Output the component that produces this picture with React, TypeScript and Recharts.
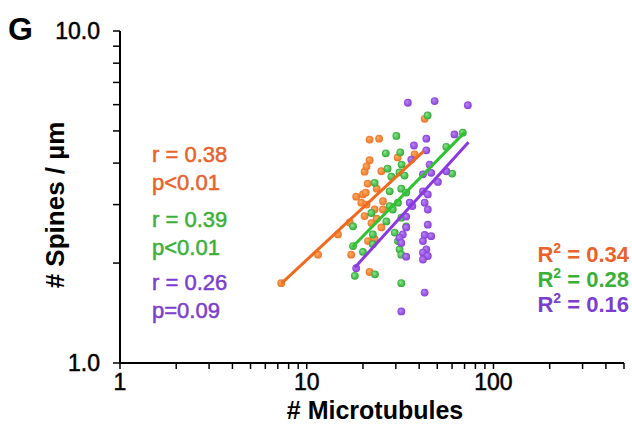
import React from 'react';
import { ScatterChart, Scatter, XAxis, YAxis } from 'recharts';

// # microtubules / # spines per µm
const orangeX = [7.3, 11.5, 14.7, 17.3, 17.0, 18.4, 20.0, 20.7, 19.6, 20.9, 20.4, 21.2, 23.7, 25.1, 21.7, 20.9, 21.7, 24.4, 30.7, 37.8, 42.8, 25.6, 23.1, 25.6, 22.2, 23.7, 25.1, 21.3, 23.1, 21.7, 20.4];
const orangeY = [1.74, 2.12, 2.44, 2.12, 2.65, 3.17, 3.22, 3.26, 3.04, 3.0, 3.77, 3.47, 3.35, 3.78, 4.08, 3.91, 4.71, 4.74, 4.16, 4.25, 5.44, 3.07, 2.9, 2.9, 2.64, 2.72, 2.56, 2.33, 2.36, 1.88, 2.77];

const greenX = [44.4, 30.2, 68.5, 26.5, 31.7, 55.9, 32.2, 27.1, 31.4, 60.1, 23.1, 28.4, 33.4, 27.8, 32.1, 34.1, 22.2, 27.8, 30.8, 28.9, 26.7, 32.1, 17.7, 34.1, 29.6, 22.6, 17.7, 20.0, 30.8, 31.4, 32.1, 18.1, 23.2, 32.1, 22.6];
const greenY = [5.57, 4.83, 4.94, 4.28, 4.31, 4.48, 3.96, 3.85, 3.75, 3.72, 3.49, 3.64, 3.67, 3.29, 3.35, 3.26, 2.83, 2.97, 3.04, 2.9, 2.67, 2.74, 2.58, 2.58, 2.47, 2.28, 2.25, 2.16, 2.33, 2.2, 2.12, 1.83, 1.85, 1.74, 2.44];

const purpleX = [34.8, 48.4, 72.9, 43.7, 61.8, 37.5, 43.7, 36.3, 45.5, 55.9, 41.9, 46.4, 50.4, 41.9, 44.5, 35.6, 36.8, 42.8, 44.5, 34.1, 34.1, 44.5, 32.7, 42.8, 46.4, 31.4, 32.1, 41.9, 43.7, 41.9, 44.5, 34.1, 41.9, 18.4, 42.8, 32.1];
const purpleY = [6.08, 6.15, 5.98, 4.74, 4.88, 4.52, 4.37, 4.1, 3.96, 3.78, 3.7, 3.74, 3.51, 3.29, 3.22, 3.04, 2.97, 3.04, 2.9, 2.76, 2.56, 2.61, 2.44, 2.43, 2.41, 2.38, 2.3, 2.33, 2.2, 2.15, 2.1, 2.09, 2.05, 1.93, 1.63, 1.43];

// regression line end points
const orangeFitX = [7.35, 42.2];
const orangeFitY = [1.74, 4.34];
const greenFitX = [17.6, 70];
const greenFitY = [2.24, 4.95];
const purpleFitX = [18.1, 73.5];
const purpleFitY = [1.94, 4.62];

const xTicks = [1, 2, 3, 4, 5, 6, 7, 8, 9, 10, 20, 30, 40, 50, 60, 70, 80, 90, 100, 200, 300, 400, 500];
const xLabels = [1, 10, 100];
const yTicks = [1, 2, 3, 4, 5, 6, 7, 8, 9, 10];
const yLabels = [1, 10];

const zip = (xs: number[], ys: number[]) => xs.map((x, i) => ({ x, y: ys[i] }));

const ORANGE = '#EE7328';
const PURPLE = '#8A3EDB';

const dot = (fill: string) => (p: any) => <circle cx={p.cx} cy={p.cy} r={3.9} fill={fill} />;
const noDot = () => <g />;

const FONT = 'Liberation Sans, Arial, sans-serif';
const tickStyle = { fontSize: 23, fill: '#000', fontFamily: FONT, stroke: '#000', strokeWidth: 0.5 };

export default function App() {
  return (
    <div style={{ position: 'absolute', left: 0, top: 0, width: 632, height: 433, background: '#fff', fontFamily: FONT }}>
      <ScatterChart width={632} height={433} margin={{ top: 31, right: 8, bottom: 0, left: 0 }}>
        <defs>
          <radialGradient id="gO" cx="50%" cy="50%" r="50%" fx="35%" fy="35%">
            <stop offset="0%" stopColor="#F8B060" />
            <stop offset="100%" stopColor={ORANGE} />
          </radialGradient>
          <radialGradient id="gG" cx="50%" cy="50%" r="50%" fx="35%" fy="35%">
            <stop offset="0%" stopColor="#8EE88E" />
            <stop offset="100%" stopColor="#2EAA35" />
          </radialGradient>
          <radialGradient id="gP" cx="50%" cy="50%" r="50%" fx="35%" fy="35%">
            <stop offset="0%" stopColor="#B98AF0" />
            <stop offset="100%" stopColor={PURPLE} />
          </radialGradient>
        </defs>
        <XAxis
          type="number"
          dataKey="x"
          scale="log"
          domain={[1, 500]}
          allowDataOverflow
          ticks={xTicks}
          interval={0}
          tickFormatter={(v: number) => (xLabels.includes(v) ? String(v) : '')}
          tick={tickStyle}
          tickSize={6}
          tickMargin={5}
          height={70}
          axisLine={{ stroke: '#000', strokeWidth: 2 }}
          tickLine={{ stroke: '#000', strokeWidth: 1.5 }}
        />
        <YAxis
          type="number"
          dataKey="y"
          scale="log"
          domain={[1, 10]}
          allowDataOverflow
          ticks={yTicks}
          interval={0}
          tickFormatter={(v: number) => (yLabels.includes(v) ? v.toFixed(1) : '')}
          tick={tickStyle}
          tickSize={7}
          tickMargin={13}
          width={120}
          axisLine={{ stroke: '#000', strokeWidth: 2 }}
          tickLine={{ stroke: '#000', strokeWidth: 1.5 }}
        />
        <Scatter data={zip(orangeX, orangeY)} shape={dot('url(#gO)')} isAnimationActive={false} />
        <Scatter data={zip(greenX, greenY)} shape={dot('url(#gG)')} isAnimationActive={false} />
        <Scatter data={zip(purpleX, purpleY)} shape={dot('url(#gP)')} isAnimationActive={false} />
        <Scatter data={zip(orangeFitX, orangeFitY)} line={{ stroke: '#F06A1E', strokeWidth: 3 }} shape={noDot} isAnimationActive={false} />
        <Scatter data={zip(greenFitX, greenFitY)} line={{ stroke: '#2FC42F', strokeWidth: 3 }} shape={noDot} isAnimationActive={false} />
        <Scatter data={zip(purpleFitX, purpleFitY)} line={{ stroke: '#8A38E0', strokeWidth: 3 }} shape={noDot} isAnimationActive={false} />
      </ScatterChart>
      <svg width={632} height={433} style={{ position: 'absolute', left: 0, top: 0, pointerEvents: 'none' }} fontFamily={FONT}>
        <text x={8} y={40} fontSize={32} fontWeight="bold">G</text>
        <text x={64} y={205} fontSize={26} fontWeight="bold" textAnchor="middle" transform="rotate(-90 64 205)">
          # Spines / µm
        </text>
        <text x={375} y={419} fontSize={25} fontWeight="bold" textAnchor="middle"># Microtubules</text>
        <g fontSize={22} strokeWidth={0.5}>
          <text x={152} y={162} fill="#E8622A" stroke="#E8622A">r = 0.38</text>
          <text x={152} y={190} fill="#E8622A" stroke="#E8622A">p&lt;0.01</text>
          <text x={152} y={227} fill="#3AB03A" stroke="#3AB03A">r = 0.39</text>
          <text x={152} y={255} fill="#3AB03A" stroke="#3AB03A">p&lt;0.01</text>
          <text x={152} y={290} fill="#7B3ECF" stroke="#7B3ECF">r = 0.26</text>
          <text x={152} y={318} fill="#7B3ECF" stroke="#7B3ECF">p=0.09</text>
        </g>
        <g fontSize={22} fontWeight="bold" textAnchor="end">
          <text x={629} y={262} fill="#E8622A">R<tspan fontSize={14} dy={-9}>2</tspan><tspan dy={9}> = 0.34</tspan></text>
          <text x={629} y={287} fill="#3AB03A">R<tspan fontSize={14} dy={-9}>2</tspan><tspan dy={9}> = 0.28</tspan></text>
          <text x={629} y={312} fill="#7B3ECF">R<tspan fontSize={14} dy={-9}>2</tspan><tspan dy={9}> = 0.16</tspan></text>
        </g>
      </svg>
    </div>
  );
}
